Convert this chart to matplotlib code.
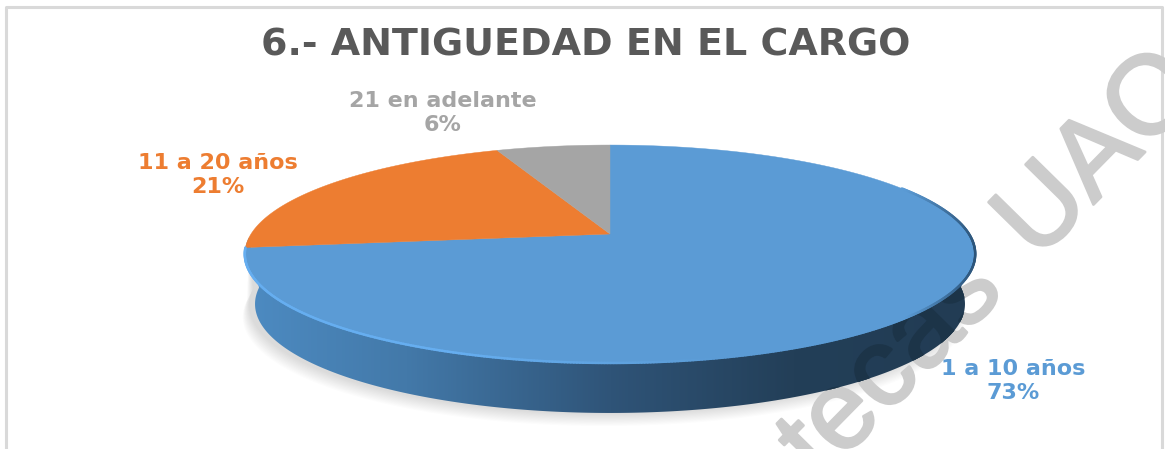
import numpy as np
import matplotlib
matplotlib.use('Agg')
import matplotlib.pyplot as plt
from matplotlib.collections import LineCollection
from matplotlib.colors import LinearSegmentedColormap, to_rgb
from matplotlib.patches import PathPatch, Polygon
from matplotlib.path import Path
import matplotlib.patheffects as pe

title = '6.- ANTIGUEDAD EN EL CARGO'
categories = ['1 a 10 años', '11 a 20 años', '21 en adelante']
percents = [73, 21, 6]
colors = ['#5b9bd5', '#ed7d31', '#a5a5a5']
label_pos = [(1013, 381), (218, 175), (443, 113)]

# perspective of the disc, worked out from the apex and the top/front edges
cx, cy = 610, 234
a, b, k = 359, 105.3, 0.1835
depth = 50


def project(theta):
    # theta: clockwise from 12 o'clock, radians. returns pixel coords
    u, v = np.sin(theta), np.cos(theta)
    return cx + a * u / (1 + k * v), cy - b * v / (1 + k * v)


def drop(x, y):
    # same edge moved down to the bottom of the disc
    return cx + (x - cx) * 0.972, y + depth


def watermark(word, x, y, color, z):
    t = ax.text(x, y, word, fontsize=80, family='Liberation Sans', color=color,
                rotation=45.5, rotation_mode='anchor', ha='right', va='baseline', zorder=z,
                path_effects=[pe.withStroke(linewidth=2, foreground=color)])
    return t


fig = plt.figure(figsize=(11.65, 4.49), dpi=100, facecolor='w')
ax = fig.add_axes([0, 0, 1, 1])
ax.set_xlim(0, 1165)
ax.set_ylim(449, 0)
ax.axis('off')

# frame of the chart
ax.plot([6, 6, 1162, 1162], [460, 7, 7, 460], color='#d9d9d9', lw=2.2, zorder=1)

# front edge only (left end to right end)
front = np.linspace(np.radians(92), np.radians(268), 300)
ex, ey = project(front)
bx, by = drop(ex, ey)

# soft shadow under the disc
for i in range(12):
    sx = cx + (bx - cx) * (1 + 0.0016 * i) - 6
    sy = by + i * 1.1 + 1
    ax.add_patch(Polygon(np.column_stack([np.r_[ex, sx[::-1]], np.r_[ey, sy[::-1]]]),
                         fc='k', ec='none', alpha=0.012, zorder=2))

watermark('UAQ', 1206, 90, '#cccccc', 2.5)
watermark('Bibliotecas', 1006, 293, '#cccccc', 2.5)

# side of the disc with its left to right shading
side = Polygon(np.column_stack([np.r_[ex, bx[::-1]], np.r_[ey, by[::-1]]]), closed=True, transform=ax.transData)
side_cmap = LinearSegmentedColormap.from_list('side', [(0, '#4d8bc2'), (0.22, '#4379a9'), (0.5, '#2f5478'),
                                                      (0.75, '#233f58'), (1, '#223c54')])
im = ax.imshow(np.linspace(0, 1, 256)[None, :], cmap=side_cmap, extent=[245, 976, 449, 0], aspect='auto', zorder=3)
im.set_clip_path(side)
ax.set_xlim(0, 1165)
ax.set_ylim(449, 0)

# watermark shows through the side but stays under the top face
wm = watermark('Bibliotecas', 1006, 293, '#1c3448', 4)
wm.set_clip_on(True)
wm.set_clip_path(side)

# top face, one wedge per category
start = 0.0
for pct, col in zip(percents, colors):
    end = start + pct / sum(percents) * 2 * np.pi
    t = np.linspace(start, end, 200)
    x, y = project(t)
    verts = np.column_stack([np.r_[cx, x, cx], np.r_[cy, y, cy]])
    codes = [Path.MOVETO] + [Path.LINETO] * (len(verts) - 2) + [Path.CLOSEPOLY]
    ax.add_patch(PathPatch(Path(verts, codes), fc=col, ec=col, lw=0.3, zorder=5))
    start = end

# bevel on the front rim: light at left, dying out to the right, dark at the far right
rx, ry = project(np.linspace(np.radians(262.8), np.radians(62), 500))
pts = np.column_stack([rx, ry])
segs = np.stack([pts[:-1], pts[1:]], axis=1)
light, base, dark = map(np.array, map(to_rgb, ['#66aef0', '#5b9bd5', '#2b5378']))
seg_colors = []
for m in rx[:-1]:
    if m < 450:
        seg_colors.append(light)
    elif m < 720:
        seg_colors.append(light + (base - light) * (m - 450) / 270)
    elif m < 905:
        seg_colors.append(base)
    else:
        seg_colors.append(base + (dark - base) * (m - 905) / 71)
ax.add_collection(LineCollection(segs, colors=seg_colors, linewidths=1.8, zorder=6, capstyle='round'))

ax.text(586, 45, title, fontsize=27.4, fontweight='bold', family='DejaVu Sans', color='#595959',
        ha='center', va='center', zorder=7)
for name, pct, col, (lx, ly) in zip(categories, percents, colors, label_pos):
    ax.text(lx, ly, f'{name}\n{pct}%', fontsize=16, fontweight='bold', family='DejaVu Sans', color=col,
            ha='center', va='center', linespacing=1.3, zorder=7)

fig.savefig('out.png', dpi=100)
